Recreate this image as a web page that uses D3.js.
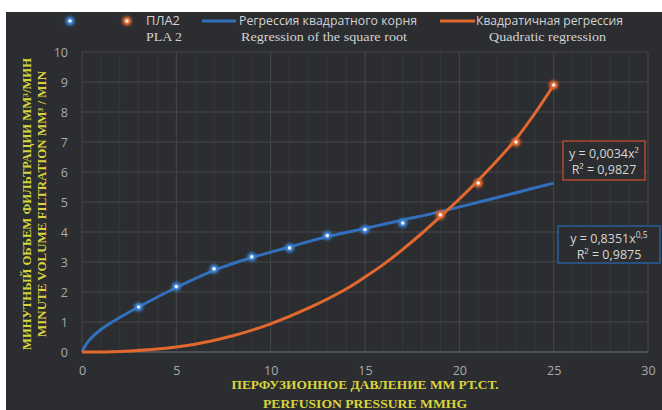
<!DOCTYPE html>
<html>
<head>
<meta charset="utf-8">
<script src="https://cdn.jsdelivr.net/npm/d3@7"></script>
<style>
  html, body { margin: 0; padding: 0; background: #ffffff; }
  svg { display: block; }
</style>
</head>
<body>
<svg id="chart" width="662" height="410"></svg>
<script>
// Measured points: perfusion pressure (mmHg) vs minute filtration volume
const blueX = [3, 5, 7, 9, 11, 13, 15, 17];
const blueY = [1.5, 2.18, 2.77, 3.17, 3.47, 3.88, 4.08, 4.3];
const orangeX = [19, 21, 23, 25];
const orangeY = [4.57, 5.63, 7.0, 8.9];

// Trend curves as plotted
const sqrtTrendX = [0, 0.3, 1, 2, 3, 5, 7, 9, 11, 12, 13, 15, 17, 19, 21, 23, 25];
const sqrtTrendY = [0, 0.33, 0.75, 1.15, 1.5, 2.15, 2.72, 3.15, 3.5, 3.68, 3.84, 4.12, 4.4, 4.68, 4.99, 5.31, 5.63];
const quadTrendX = [0, 2, 4, 6, 8, 10, 12, 14, 15, 16, 17, 18, 19, 20, 21, 22, 23, 24, 25];
const quadTrendY = [0, 0.02, 0.1, 0.26, 0.54, 0.94, 1.46, 2.1, 2.5, 2.93, 3.42, 3.95, 4.52, 5.1, 5.72, 6.38, 7.1, 7.95, 8.9];

const xTicks = [0, 5, 10, 15, 20, 25, 30];
const yTicks = [0, 1, 2, 3, 4, 5, 6, 7, 8, 9, 10];
const xMinor = d3.range(0, 31, 1);

const legendRu = ["ПЛА2", "Регрессия квадратного корня", "Квадратичная регрессия"];
const legendEn = ["PLA 2", "Regression of the square root", "Quadratic regression"];
const yTitle = ["МИНУТНЫЙ ОБЪЕМ ФИЛЬТРАЦИИ ММ³/МИН", "MINUTE VOLUME FILTRATION MM³ / MIN"];
const xTitle = ["ПЕРФУЗИОННОЕ ДАВЛЕНИЕ ММ РТ.СТ.", "PERFUSION PRESSURE MMHG"];

const BLUE = "#3170bd";
const ORANGE = "#e2682f";
const BG = "#2b2d30";

const svg = d3.select("#chart");
const defs = svg.append("defs");
const glow = defs.append("filter").attr("id", "glow")
  .attr("x", "-100%").attr("y", "-100%").attr("width", "300%").attr("height", "300%");
glow.append("feGaussianBlur").attr("stdDeviation", 1.6);
const soft = defs.append("filter").attr("id", "soft")
  .attr("x", "-5%").attr("y", "-5%").attr("width", "110%").attr("height", "110%");
soft.append("feGaussianBlur").attr("stdDeviation", 0.5);

// dark panel
svg.append("rect").attr("x", 6).attr("y", 12).attr("width", 656).attr("height", 398).attr("fill", BG);

const x = d3.scaleLinear().domain([0, 30]).range([82, 648]);
const y = d3.scaleLinear().domain([0, 10]).range([352, 52]);

// grid
const grid = svg.append("g");
grid.selectAll("line.minor").data(xMinor.filter(d => d % 5 !== 0)).join("line")
  .attr("x1", d => x(d)).attr("x2", d => x(d)).attr("y1", y(10)).attr("y2", y(0))
  .attr("stroke", "#35383b").attr("stroke-width", 1);
grid.selectAll("line.hy").data(yTicks).join("line")
  .attr("x1", x(0)).attr("x2", x(30)).attr("y1", d => y(d)).attr("y2", d => y(d))
  .attr("stroke", "#46494c").attr("stroke-width", 1);
grid.selectAll("line.vx").data(xTicks).join("line")
  .attr("x1", d => x(d)).attr("x2", d => x(d)).attr("y1", y(10)).attr("y2", y(0))
  .attr("stroke", "#46494c").attr("stroke-width", 1);
svg.append("line").attr("x1", x(0)).attr("x2", x(30)).attr("y1", y(0)).attr("y2", y(0))
  .attr("stroke", "#55585b").attr("stroke-width", 1.5);

// axes
const xAxis = svg.append("g").attr("transform", `translate(0,${y(0)})`)
  .call(d3.axisBottom(x).tickValues(xTicks).tickSize(0).tickPadding(14));
const yAxis = svg.append("g").attr("transform", `translate(${x(0)},0)`)
  .call(d3.axisLeft(y).tickValues(yTicks).tickSize(0).tickPadding(14));
[xAxis, yAxis].forEach(a => {
  a.select(".domain").remove();
  a.selectAll("text").attr("fill", "#a9abad").attr("font-family", "'Open Sans', sans-serif")
    .attr("font-size", 12.5);
});

// trend curves
const line = d3.line().x(d => x(d[0])).y(d => y(d[1])).curve(d3.curveCatmullRom);
const sqrtData = d3.zip(sqrtTrendX, sqrtTrendY);
const quadData = d3.zip(quadTrendX, quadTrendY);
svg.append("path").datum(sqrtData).attr("d", line).attr("fill", "none")
  .attr("stroke", BLUE).attr("stroke-width", 3).attr("filter", "url(#soft)");
svg.append("path").datum(quadData).attr("d", line).attr("fill", "none")
  .attr("stroke", ORANGE).attr("stroke-width", 3).attr("filter", "url(#soft)");

// glowing markers
function marker(g, cx, cy, color) {
  g.append("circle").attr("cx", cx).attr("cy", cy).attr("r", 4.6)
    .attr("fill", color).attr("filter", "url(#glow)");
  g.append("circle").attr("cx", cx).attr("cy", cy).attr("r", 3.4).attr("fill", color);
  g.append("circle").attr("cx", cx).attr("cy", cy).attr("r", 1.8).attr("fill", "#f4f4f4");
}
const pts = svg.append("g");
d3.zip(blueX, blueY).forEach(d => marker(pts, x(d[0]), y(d[1]), "#3b80d0"));
d3.zip(orangeX, orangeY).forEach(d => marker(pts, x(d[0]), y(d[1]), ORANGE));

// equation boxes
function eqBox(bx, by, bw, bh, color, l1, l2) {
  const g = svg.append("g");
  g.append("rect").attr("x", bx).attr("y", by).attr("width", bw).attr("height", bh)
    .attr("fill", BG).attr("stroke", color).attr("stroke-width", 1.5);
  const font = g => g.attr("fill", "#d6d6d6").attr("font-family", "'Open Sans', sans-serif")
    .attr("font-size", 12.5).attr("text-anchor", "middle").attr("x", bx + bw / 2);
  g.append("text").call(font).attr("y", by + 17).html(l1);
  g.append("text").call(font).attr("y", by + 33).html(l2);
}
eqBox(563, 141, 82, 39, "#b3472f", "y = 0,0034x²", "R² = 0,9827");
eqBox(558, 226, 102, 37, "#2a5d9c",
  "y = 0,8351x<tspan dy='-5' font-size='8.5'>0,5</tspan>", "R² = 0,9875");

// legend
const lg = svg.append("g");
marker(lg, 70, 21, "#3b80d0");
marker(lg, 127, 21, ORANGE);
lg.append("line").attr("x1", 202).attr("x2", 236).attr("y1", 21).attr("y2", 21)
  .attr("stroke", BLUE).attr("stroke-width", 3);
lg.append("line").attr("x1", 440).attr("x2", 475).attr("y1", 21).attr("y2", 21)
  .attr("stroke", ORANGE).attr("stroke-width", 3);
const ruPos = [[146, 34], [239, 178], [476, 147]];
const enPos = [[146, 36], [241, 166], [489, 117]];
legendRu.forEach((t, i) => {
  lg.append("text").attr("x", ruPos[i][0]).attr("y", 25).text(t)
    .attr("fill", "#d2d2d2").attr("font-family", "'Open Sans', sans-serif").attr("font-size", 12)
    .attr("textLength", ruPos[i][1]).attr("lengthAdjust", "spacingAndGlyphs");
});
legendEn.forEach((t, i) => {
  lg.append("text").attr("x", enPos[i][0]).attr("y", 41).text(t)
    .attr("fill", "#d2d2d2").attr("font-family", "'Liberation Serif', serif").attr("font-size", 12.5)
    .attr("textLength", enPos[i][1]).attr("lengthAdjust", "spacingAndGlyphs");
});

// axis titles
const YEL = "#d8d43e";
const yt = svg.append("g").attr("transform", "translate(0,204) rotate(-90)");
[[0, 31, 292], [1, 46, 266]].forEach(([i, px, len]) => {
  yt.append("text").attr("x", 0).attr("y", px).text(yTitle[i])
    .attr("fill", YEL).attr("font-family", "'Liberation Serif', serif").attr("font-weight", "bold")
    .attr("font-size", 11.5).attr("text-anchor", "middle")
    .attr("textLength", len).attr("lengthAdjust", "spacingAndGlyphs");
});
[[0, 389, 267], [1, 408, 204]].forEach(([i, py, len]) => {
  svg.append("text").attr("x", 365).attr("y", py).text(xTitle[i])
    .attr("fill", YEL).attr("font-family", "'Liberation Serif', serif").attr("font-weight", "bold")
    .attr("font-size", 11.5).attr("text-anchor", "middle")
    .attr("textLength", len).attr("lengthAdjust", "spacingAndGlyphs");
});
</script>
</body>
</html>
